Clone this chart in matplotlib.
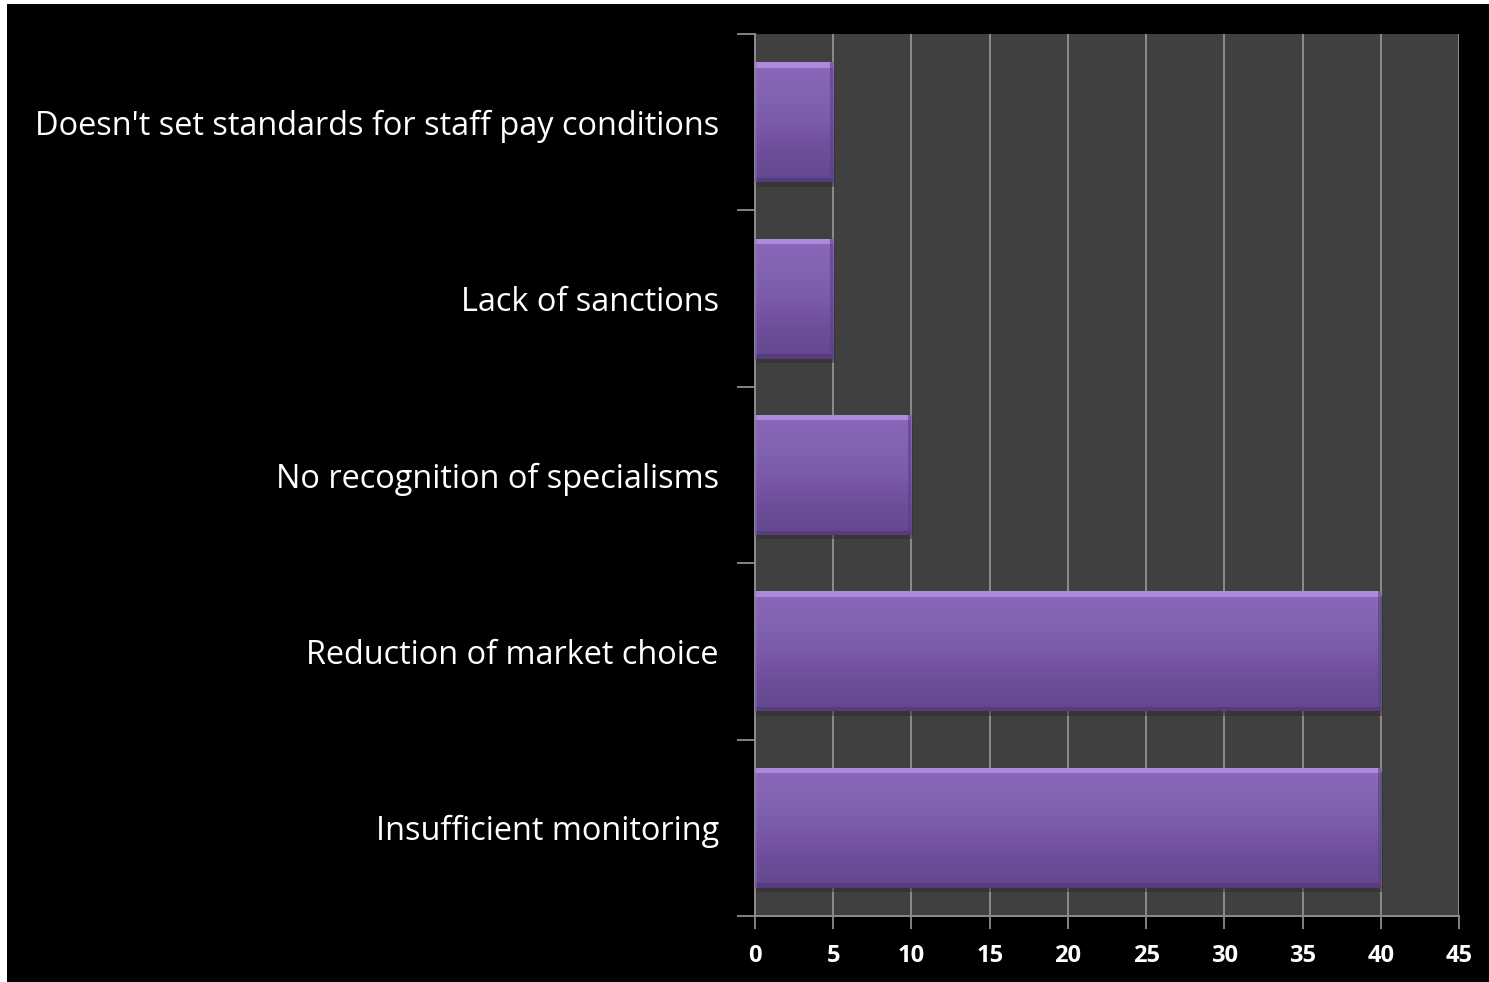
import numpy as np
import matplotlib
matplotlib.use("Agg")
import matplotlib.pyplot as plt
from matplotlib.colors import LinearSegmentedColormap
from matplotlib.patches import Rectangle

plt.rcParams['font.family'] = ['Open Sans', 'DejaVu Sans']

# categories listed bottom to top
categories = ['Insufficient monitoring',
              'Reduction of market choice',
              'No recognition of specialisms',
              'Lack of sanctions',
              "Doesn't set standards for staff pay conditions"]
values = [40, 40, 10, 5, 5]
xticks = [0, 5, 10, 15, 20, 25, 30, 35, 40, 45]

W, H = 1489, 982
fig = plt.figure(figsize=(W / 100, H / 100), dpi=100)
fig.patch.set_facecolor('white')
# black slide background with a thin white margin top/left
fig.add_artist(Rectangle((7 / W, 0), 1, 1 - 4 / H, transform=fig.transFigure,
                         facecolor='black', edgecolor='none', zorder=0))

ax = fig.add_axes([755 / W, 1 - 916 / H, (1459 - 755) / W, (916 - 34) / H])
ax.set_facecolor('#404040')

bar_h = 0.68
ypos = np.arange(len(categories))

# purple gradient for the bars, light at the top, darker at the bottom
grad_cmap = LinearSegmentedColormap.from_list(
    'barfill', ['#634690', '#6d4e9a', '#7a5aaa', '#8363b4', '#8a68bb'])
grad = np.linspace(0, 1, 256).reshape(-1, 1)

for y, v in zip(ypos, values):
    y0, y1 = y - bar_h / 2, y + bar_h / 2
    # soft shadow under the bar
    ax.add_patch(Rectangle((0, y0 - 0.025), v + 0.12, bar_h, facecolor='#2e2e2e',
                           edgecolor='none', alpha=0.5, zorder=2.5))
    ax.imshow(grad, extent=[0, v, y0, y1], origin='lower', cmap=grad_cmap,
              aspect='auto', interpolation='bicubic', zorder=3)
    # bevel highlights
    ax.add_patch(Rectangle((0, y1 - 0.03), v, 0.03, facecolor='#b48fe0',
                           edgecolor='none', alpha=0.9, zorder=4))
    ax.add_patch(Rectangle((0, y0), v, 0.025, facecolor='#4d3670',
                           edgecolor='none', alpha=0.6, zorder=4))
    ax.add_patch(Rectangle((v - 0.2, y0), 0.2, bar_h, facecolor='#5a3f82',
                           edgecolor='none', alpha=0.6, zorder=4))
    ax.add_patch(Rectangle((0, y0), 0.15, bar_h, facecolor='#9a78c6',
                           edgecolor='none', alpha=0.4, zorder=4))

ax.set_xlim(0, 45)
ax.set_ylim(-0.5, len(categories) - 0.5)

ax.set_xticks(xticks)
ax.set_xticklabels([str(t) for t in xticks], color='white', fontsize=17,
                   fontweight='bold')
ax.tick_params(axis='x', length=9, width=1.3, color='#8c8c8c', pad=11)
ax.grid(axis='x', color='#8c8c8c', linewidth=1.4, zorder=1)
ax.set_axisbelow(True)

ax.set_yticks(ypos)
ax.set_yticklabels(categories, color='white', fontsize=23.4)
ax.tick_params(axis='y', which='major', length=0, pad=26)
ax.set_yticks(np.arange(-0.5, len(categories)), minor=True)
ax.tick_params(axis='y', which='minor', length=13, width=1.3, color='#8c8c8c')

for side in ['top', 'right']:
    ax.spines[side].set_visible(False)
for side in ['left', 'bottom']:
    ax.spines[side].set_color('#8c8c8c')
    ax.spines[side].set_linewidth(1.4)

fig.savefig('out.png', dpi=100, facecolor=fig.get_facecolor())
